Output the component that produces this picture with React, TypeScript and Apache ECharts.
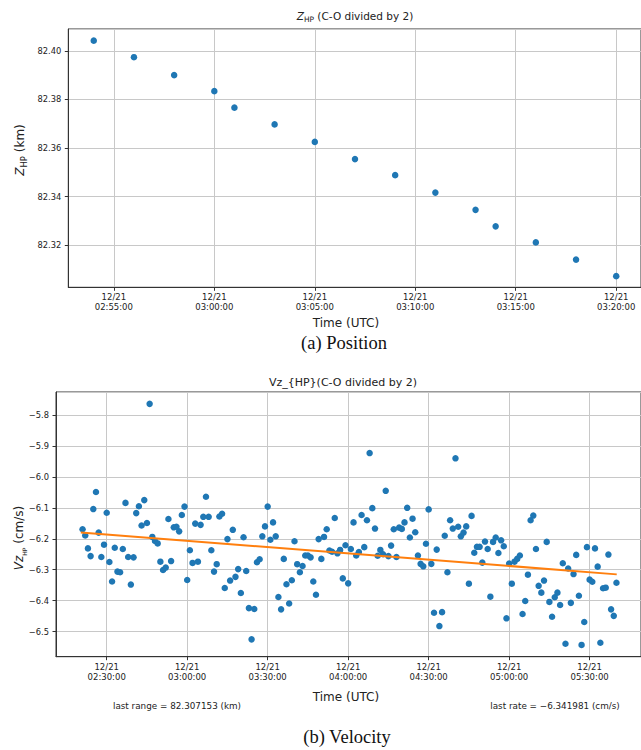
import React, { useEffect, useRef } from "react";
import * as echarts from "echarts";

// ---------- Data ----------
const TOP_TIMES = ["02:54", "02:56", "02:58", "03:00", "03:01", "03:03", "03:05", "03:07", "03:09", "03:11", "03:13", "03:14", "03:16", "03:18", "03:20"];
const TOP_VALUES = [82.4042, 82.3974, 82.39, 82.3834, 82.3766, 82.3697, 82.3625, 82.3554, 82.3488, 82.3416, 82.3345, 82.3277, 82.3211, 82.314, 82.3072];

const VEL_TIMES = [
  "02:21", "02:22", "02:23", "02:24", "02:25", "02:26", "02:27", "02:28", "02:29", "02:30",
  "02:31", "02:32", "02:33", "02:34", "02:35", "02:36", "02:37", "02:38", "02:39", "02:40",
  "02:41", "02:42", "02:43", "02:44", "02:45", "02:46", "02:47", "02:48", "02:49", "02:50",
  "02:51", "02:52", "02:53", "02:54", "02:55", "02:56", "02:57", "02:58", "02:59", "03:00",
  "03:01", "03:02", "03:03", "03:04", "03:05", "03:06", "03:07", "03:08", "03:09", "03:10",
  "03:11", "03:12", "03:13", "03:14", "03:15", "03:16", "03:17", "03:18", "03:19", "03:20",
  "03:21", "03:22", "03:23", "03:24", "03:25", "03:26", "03:27", "03:28", "03:29", "03:30",
  "03:31", "03:32", "03:33", "03:34", "03:35", "03:36", "03:37", "03:38", "03:39", "03:40",
  "03:41", "03:42", "03:43", "03:44", "03:45", "03:46", "03:47", "03:48", "03:49", "03:50",
  "03:51", "03:52", "03:53", "03:54", "03:55", "03:56", "03:57", "03:58", "03:59", "04:00",
  "04:01", "04:02", "04:03", "04:04", "04:05", "04:06", "04:07", "04:08", "04:09", "04:10",
  "04:11", "04:12", "04:13", "04:14", "04:15", "04:16", "04:17", "04:18", "04:19", "04:20",
  "04:21", "04:22", "04:23", "04:24", "04:25", "04:26", "04:27", "04:28", "04:29", "04:30",
  "04:31", "04:32", "04:33", "04:34", "04:35", "04:36", "04:37", "04:38", "04:39", "04:40",
  "04:41", "04:42", "04:43", "04:44", "04:45", "04:46", "04:47", "04:48", "04:49", "04:50",
  "04:51", "04:52", "04:53", "04:54", "04:55", "04:56", "04:57", "04:58", "04:59", "05:00",
  "05:01", "05:02", "05:03", "05:04", "05:05", "05:06", "05:07", "05:08", "05:09", "05:10",
  "05:11", "05:12", "05:13", "05:14", "05:15", "05:16", "05:17", "05:18", "05:19", "05:20",
  "05:21", "05:22", "05:23", "05:24", "05:25", "05:26", "05:27", "05:28", "05:29", "05:30",
  "05:31", "05:32", "05:33", "05:34", "05:35", "05:36", "05:37", "05:38", "05:39", "05:40",
];
const VEL_VALUES = [
  -6.169, -6.189, -6.231, -6.256, -6.104, -6.049, -6.18, -6.259, -6.219, -6.116,
  -6.275, -6.338, -6.229, -6.306, -6.308, -6.233, -6.084, -6.259, -6.348, -6.26,
  -6.117, -6.095, -6.157, -6.075, -6.149, -5.764, -6.194, -6.207, -6.215, -6.274,
  -6.301, -6.293, -6.136, -6.272, -6.163, -6.161, -6.176, -6.123, -6.096, -6.333,
  -6.237, -6.278, -6.151, -6.274, -6.155, -6.129, -6.064, -6.129, -6.237, -6.306,
  -6.282, -6.128, -6.119, -6.359, -6.201, -6.335, -6.171, -6.323, -6.298, -6.375,
  -6.195, -6.304, -6.424, -6.525, -6.427, -6.276, -6.266, -6.192, -6.16, -6.096,
  -6.203, -6.147, -6.192, -6.388, -6.428, -6.265, -6.347, -6.409, -6.334, -6.208,
  -6.282, -6.308, -6.288, -6.254, -6.254, -6.26, -6.338, -6.381, -6.201, -6.265,
  -6.194, -6.169, -6.238, -6.242, -6.133, -6.247, -6.236, -6.328, -6.221, -6.344,
  -6.233, -6.147, -6.254, -6.243, -6.123, -6.227, -6.14, -5.923, -6.101, -6.167,
  -6.255, -6.236, -6.25, -6.045, -6.256, -6.222, -6.169, -6.259, -6.164, -6.168,
  -6.147, -6.1, -6.196, -6.135, -6.179, -6.254, -6.281, -6.289, -6.216, -6.105,
  -6.281, -6.439, -6.235, -6.482, -6.437, -6.19, -6.308, -6.14, -6.167, -5.94,
  -6.161, -6.192, -6.18, -6.16, -6.345, -6.126, -6.245, -6.226, -6.226, -6.277,
  -6.209, -6.233, -6.387, -6.21, -6.196, -6.246, -6.205, -6.224, -6.457, -6.28,
  -6.345, -6.274, -6.265, -6.254, -6.443, -6.401, -6.316, -6.14, -6.125, -6.233,
  -6.352, -6.374, -6.335, -6.21, -6.404, -6.452, -6.389, -6.374, -6.414, -6.279,
  -6.539, -6.296, -6.407, -6.314, -6.252, -6.384, -6.543, -6.469, -6.227, -6.332,
  -6.339, -6.231, -6.29, -6.536, -6.36, -6.358, -6.251, -6.428, -6.449, -6.342,
];

const TREND_TIMES = ["02:20:20", "05:40:06"];
const TREND_VALUES = [-6.1796, -6.315];

const TOP_X_RANGE = ["02:52:44", "03:21:14"];
const TOP_Y_RANGE = [82.3026, 82.409];
const VEL_X_RANGE = ["02:11:06", "05:49:09"];
const VEL_Y_RANGE = [-6.581, -5.7257];

const LAST_RANGE_TEXT = "last range = 82.307153 (km)";
const LAST_RATE_TEXT = "last rate = \u22126.341981 (cm/s)";

// ---------- helpers ----------
const toMin = (s: string) => {
  const p = s.split(":").map(Number);
  return p[0] * 60 + p[1] + (p[2] || 0) / 60;
};
const pad = (n: number) => (n < 10 ? "0" : "") + n;
const timeLabel = (v: number) => {
  const tot = Math.round(v * 60);
  const h = Math.floor(tot / 3600);
  const m = Math.floor((tot % 3600) / 60);
  const s = tot % 60;
  return `12/21\n${pad(h)}:${pad(m)}:${pad(s)}`;
};

const FONT = "DejaVu Sans";
const AX = "#333";
const GRIDC = "#c8c8c8";
const TXT = "#222";

const xAxisBase = (gi: number, range: string[], split: number) => ({
  type: "value",
  gridIndex: gi,
  min: toMin(range[0]),
  max: toMin(range[1]),
  splitNumber: split,
  axisLine: { show: true, lineStyle: { color: AX, width: 1 } },
  axisTick: { show: true, inside: false, length: 3.5, lineStyle: { color: AX } },
  splitLine: { show: true, lineStyle: { color: GRIDC, width: 1 } },
  axisLabel: {
    showMinLabel: false,
    showMaxLabel: false,
    formatter: timeLabel,
    fontFamily: FONT,
    fontSize: 8.5,
    lineHeight: 10,
    color: TXT,
    margin: 5,
  },
});

const yAxisBase = (gi: number, range: number[], split: number, fmt: (v: number) => string) => ({
  type: "value",
  gridIndex: gi,
  min: range[0],
  max: range[1],
  splitNumber: split,
  axisLine: { show: true, lineStyle: { color: AX, width: 1 } },
  axisTick: { show: true, inside: false, length: 3.5, lineStyle: { color: AX } },
  splitLine: { show: true, lineStyle: { color: GRIDC, width: 1 } },
  axisLabel: {
    showMinLabel: false,
    showMaxLabel: false,
    formatter: fmt,
    fontFamily: FONT,
    fontSize: 8.3,
    color: TXT,
    margin: 7,
  },
});

export default function App() {
  const ref = useRef<HTMLDivElement>(null);
  useEffect(() => {
    if (!ref.current) return;
    const chart = echarts.init(ref.current, null, { renderer: "svg" });

    const topData = TOP_TIMES.map((t, i) => [toMin(t), TOP_VALUES[i]]);
    const velData = VEL_TIMES.map((t, i) => [toMin(t), VEL_VALUES[i]]);
    const trendData = TREND_TIMES.map((t, i) => [toMin(t), TREND_VALUES[i]]);

    const sub = { fontFamily: FONT, fontSize: 7.5, verticalAlign: "bottom", lineHeight: 8, fill: TXT };

    chart.setOption({
      animation: false,
      backgroundColor: "#fff",
      grid: [
        { left: 68.3, top: 29, width: 572.7, height: 258.3, show: true, borderColor: AX, borderWidth: 1, backgroundColor: "transparent" },
        { left: 56, top: 392, width: 585, height: 264.7, show: true, borderColor: AX, borderWidth: 1, backgroundColor: "transparent" },
      ],
      xAxis: [xAxisBase(0, TOP_X_RANGE, 6), xAxisBase(1, VEL_X_RANGE, 7)],
      yAxis: [
        yAxisBase(0, TOP_Y_RANGE, 5, (v: number) => v.toFixed(2)),
        yAxisBase(1, VEL_Y_RANGE, 8, (v: number) => (v < 0 ? "\u2212" : "") + Math.abs(v).toFixed(1)),
      ],
      series: [
        {
          type: "scatter",
          xAxisIndex: 0,
          yAxisIndex: 0,
          data: topData,
          symbolSize: 6.5,
          itemStyle: { color: "#1f77b4", opacity: 1 },
        },
        {
          type: "scatter",
          xAxisIndex: 1,
          yAxisIndex: 1,
          data: velData,
          symbolSize: 6.5,
          itemStyle: { color: "#1f77b4", opacity: 1 },
        },
        {
          type: "line",
          xAxisIndex: 1,
          yAxisIndex: 1,
          data: trendData,
          showSymbol: false,
          symbol: "none",
          lineStyle: { color: "#ff7f0e", width: 2 },
          z: 5,
        },
      ],
      graphic: [
        {
          type: "text",
          x: 355,
          y: 16,
          style: {
            text: "{z|Z}{s|HP} (C-O divided by 2)",
            fontFamily: FONT,
            fontSize: 10.5,
            lineHeight: 14,
            fill: TXT,
            align: "center",
            verticalAlign: "middle",
            rich: {
              z: { fontFamily: FONT, fontSize: 10.5, fontStyle: "italic", lineHeight: 14, fill: TXT },
              s: sub,
            },
          },
        },
        {
          type: "text",
          x: 20,
          y: 150,
          rotation: Math.PI / 2,
          style: {
            text: "{z|Z}{s|HP} (km)",
            fontFamily: FONT,
            fontSize: 12,
            lineHeight: 16,
            fill: TXT,
            align: "center",
            verticalAlign: "middle",
            rich: {
              z: { fontFamily: FONT, fontSize: 12, fontStyle: "italic", lineHeight: 16, fill: TXT },
              s: { fontFamily: FONT, fontSize: 8.5, verticalAlign: "bottom", lineHeight: 9, fill: TXT },
            },
          },
        },
        {
          type: "text",
          x: 346,
          y: 323,
          style: { text: "Time (UTC)", fontFamily: FONT, fontSize: 12, fill: TXT, align: "center", verticalAlign: "middle" },
        },
        {
          type: "text",
          x: 344,
          y: 343,
          style: { text: "(a) Position", fontFamily: "Liberation Serif", fontSize: 18.5, fill: "#111", align: "center", verticalAlign: "middle" },
        },
        {
          type: "text",
          x: 343,
          y: 382,
          style: { text: "Vz_{HP}(C-O divided by 2)", fontFamily: FONT, fontSize: 11, fill: TXT, align: "center", verticalAlign: "middle" },
        },
        {
          type: "text",
          x: 19,
          y: 538,
          rotation: Math.PI / 2,
          style: {
            text: "{z|Vz}{s|HP} (cm/s)",
            fontFamily: FONT,
            fontSize: 12,
            lineHeight: 16,
            fill: TXT,
            align: "center",
            verticalAlign: "middle",
            rich: {
              z: { fontFamily: FONT, fontSize: 12, fontStyle: "italic", lineHeight: 16, fill: TXT },
              s: { fontFamily: FONT, fontSize: 6, verticalAlign: "bottom", lineHeight: 7, fill: TXT },
            },
          },
        },
        {
          type: "text",
          x: 346,
          y: 697,
          style: { text: "Time (UTC)", fontFamily: FONT, fontSize: 12, fill: TXT, align: "center", verticalAlign: "middle" },
        },
        {
          type: "text",
          x: 177,
          y: 706,
          style: { text: LAST_RANGE_TEXT, fontFamily: FONT, fontSize: 8.8, fill: TXT, align: "center", verticalAlign: "middle" },
        },
        {
          type: "text",
          x: 555,
          y: 706,
          style: { text: LAST_RATE_TEXT, fontFamily: FONT, fontSize: 8.8, fill: TXT, align: "center", verticalAlign: "middle" },
        },
        {
          type: "text",
          x: 347,
          y: 737,
          style: { text: "(b) Velocity", fontFamily: "Liberation Serif", fontSize: 18.5, fill: "#111", align: "center", verticalAlign: "middle" },
        },
      ],
    });
    return () => chart.dispose();
  }, []);

  return (
    <div
      ref={ref}
      style={{ position: "absolute", left: 0, top: 0, width: 641, height: 750, background: "#fff" }}
    />
  );
}
